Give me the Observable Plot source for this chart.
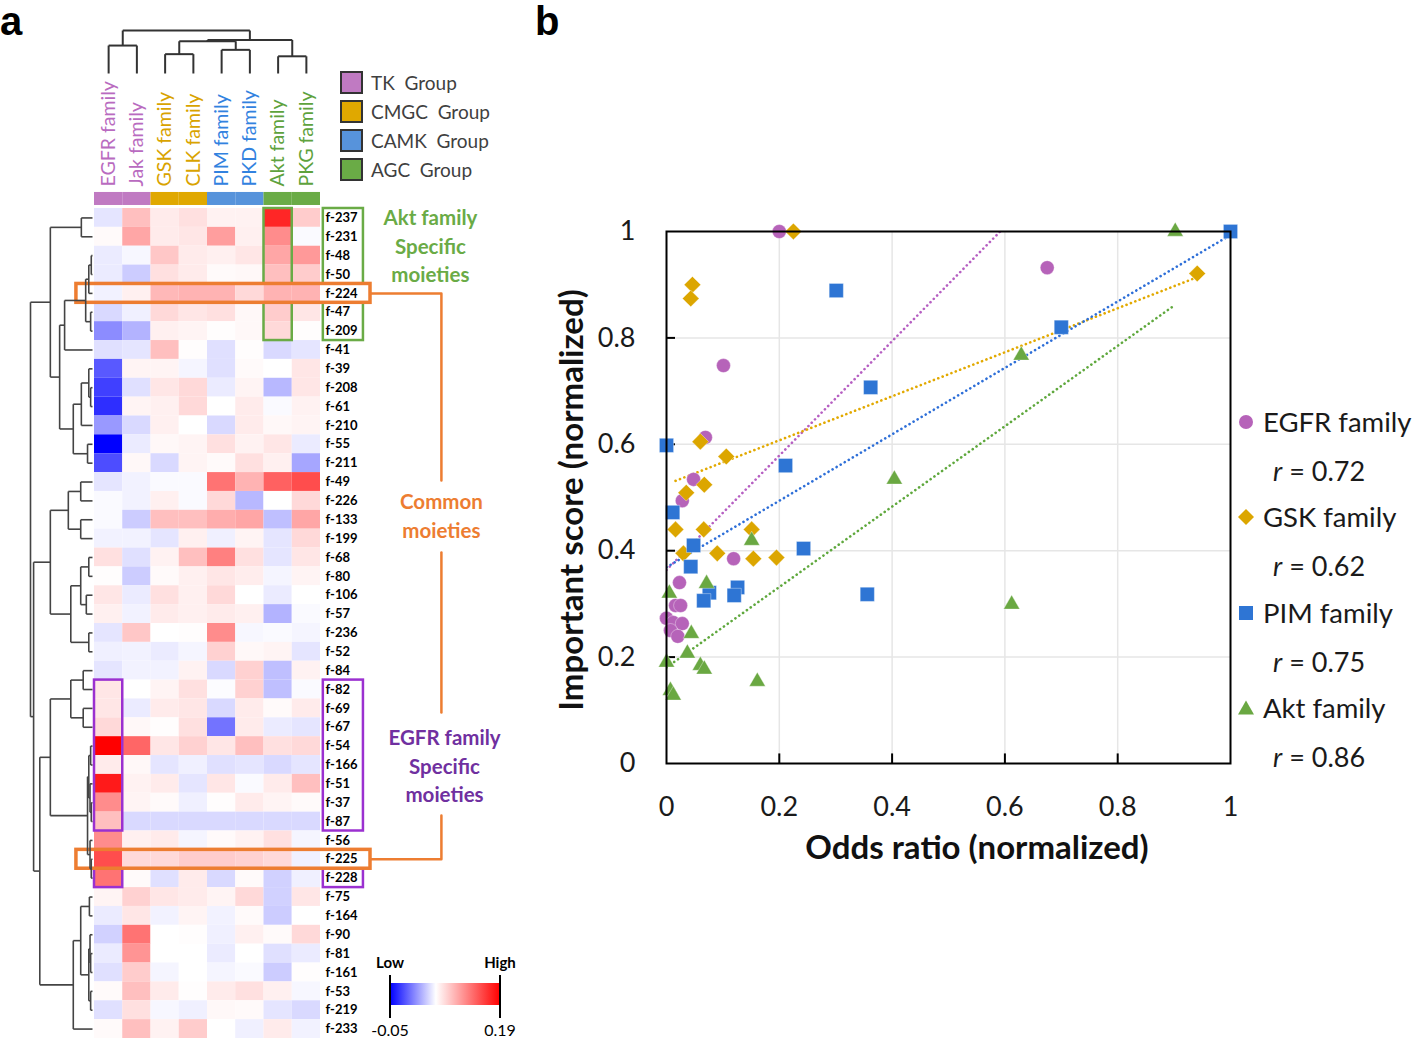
<!DOCTYPE html>
<html><head><meta charset="utf-8">
<script src="https://cdn.jsdelivr.net/npm/d3@7"></script>
<script src="https://cdn.jsdelivr.net/npm/@observablehq/plot@0.6"></script>
<style>
body{margin:0;background:#fff;font-family:Lato,"Open Sans",sans-serif;}
#root{position:relative;width:1416px;height:1040px;overflow:hidden;background:#fff;}
.abs{position:absolute;}
</style></head><body><div id="root"></div>
<script>
// ---------- Panel a data ----------
const cols = ["EGFR family","Jak family","GSK family","CLK family","PIM family","PKD family","Akt family","PKG family"];
const colGroup = [0,0,1,1,2,2,3,3];
const groupNames = ["TK  Group","CMGC  Group","CAMK  Group","AGC  Group"];
const groupColors = ["#c07ac2","#e0a800","#5793db","#6aab46"];
const labelColors = ["#b96bc0","#d9a300","#3282df","#5ea23d"];
const rows = ["f-237","f-231","f-48","f-50","f-224","f-47","f-209","f-41","f-39","f-208","f-61","f-210","f-55","f-211",
  "f-49","f-226","f-133","f-199","f-68","f-80","f-106","f-57","f-236","f-52","f-84","f-82","f-69","f-67","f-54","f-166",
  "f-51","f-37","f-87","f-56","f-225","f-228","f-75","f-164","f-90","f-81","f-161","f-53","f-219","f-233"];
const values = [
  [0.040,0.085,0.061,0.067,0.057,0.057,0.169,0.078],
  [0.053,0.099,0.061,0.064,0.103,0.058,0.113,0.048],
  [0.042,0.047,0.081,0.061,0.058,0.064,0.099,0.106],
  [0.042,0.030,0.067,0.061,0.053,0.054,0.085,0.078],
  [0.045,0.058,0.089,0.092,0.092,0.071,0.092,0.092],
  [0.035,0.044,0.071,0.064,0.067,0.054,0.078,0.064],
  [0.005,0.020,0.058,0.056,0.051,0.054,0.071,0.051],
  [0.038,0.040,0.085,0.051,0.038,0.051,0.035,0.040],
  [-0.015,0.056,0.056,0.046,0.038,0.053,0.050,0.064],
  [-0.025,0.038,0.064,0.071,0.042,0.056,0.022,0.064],
  [-0.032,0.056,0.058,0.071,0.050,0.061,0.048,0.057],
  [0.010,0.035,0.058,0.050,0.035,0.061,0.054,0.056],
  [-0.050,0.042,0.054,0.056,0.067,0.057,0.064,0.042],
  [-0.020,0.054,0.035,0.056,0.053,0.067,0.058,0.015],
  [0.040,0.045,0.048,0.048,0.127,0.092,0.137,0.148],
  [0.048,0.045,0.058,0.048,0.071,0.022,0.050,0.071],
  [0.048,0.030,0.085,0.085,0.095,0.099,0.025,0.099],
  [0.045,0.045,0.040,0.058,0.044,0.056,0.040,0.071],
  [0.067,0.038,0.057,0.085,0.120,0.067,0.040,0.064],
  [0.051,0.030,0.053,0.058,0.064,0.060,0.046,0.056],
  [0.064,0.042,0.067,0.058,0.071,0.050,0.042,0.050],
  [0.058,0.045,0.061,0.058,0.061,0.058,0.020,0.048],
  [0.040,0.081,0.050,0.051,0.113,0.047,0.048,0.046],
  [0.044,0.045,0.042,0.046,0.075,0.054,0.056,0.040],
  [0.040,0.045,0.045,0.057,0.035,0.075,0.025,0.057],
  [0.064,0.050,0.056,0.067,0.049,0.075,0.025,0.048],
  [0.064,0.042,0.061,0.064,0.035,0.061,0.053,0.061],
  [0.071,0.054,0.051,0.067,-0.005,0.061,0.042,0.040],
  [0.190,0.134,0.064,0.075,0.064,0.085,0.067,0.071],
  [0.061,0.054,0.040,0.044,0.038,0.040,0.035,0.040],
  [0.176,0.057,0.061,0.040,0.064,0.048,0.061,0.085],
  [0.113,0.056,0.053,0.044,0.051,0.061,0.056,0.053],
  [0.085,0.035,0.035,0.035,0.035,0.035,0.035,0.035],
  [0.113,0.058,0.061,0.046,0.053,0.057,0.067,0.046],
  [0.148,0.071,0.071,0.078,0.078,0.075,0.071,0.044],
  [0.127,0.053,0.038,0.061,0.035,0.053,0.032,0.044],
  [0.056,0.075,0.064,0.061,0.056,0.071,0.032,0.064],
  [0.042,0.064,0.045,0.056,0.045,0.053,0.030,0.050],
  [0.032,0.127,0.050,0.051,0.044,0.058,0.053,0.071],
  [0.042,0.109,0.050,0.050,0.042,0.050,0.038,0.042],
  [0.038,0.078,0.046,0.050,0.046,0.048,0.030,0.051],
  [0.053,0.085,0.061,0.051,0.061,0.067,0.058,0.047],
  [0.038,0.067,0.047,0.044,0.054,0.053,0.040,0.035],
  [0.053,0.085,0.057,0.078,0.050,0.044,0.061,0.045]
];
// dendrograms: [mergeHeight, left, right]
const rowTree = [1.0,
  [0.68, [0.18,"f-237","f-231"],
    [0.53, [0.45, [0.11, [0.06, [0.02,"f-48","f-50"], "f-224"], [0.03,"f-47","f-209"]], "f-41"],
           [0.31, [0.18, [0.06,"f-39",[0.03,"f-208","f-61"]], "f-210"], [0.08,"f-55","f-211"]]]],
  [0.95,
    [0.68, [0.39, [0.19,"f-49","f-226"], [0.19,"f-133","f-199"]],
           [0.35, [0.19, [0.06,"f-68","f-80"], [0.10,"f-106","f-57"]], [0.06,"f-236","f-52"]]],
    [0.85,
      [0.68, [0.35, [0.15,"f-84","f-82"], [0.15,"f-69","f-67"]],
             [0.08, [0.06, [0.03,"f-54","f-166"], [0.04,"f-51",[0.02,"f-37","f-87"]]], [0.04,"f-56",[0.02,"f-225","f-228"]]]],
      [0.31, [0.19, [0.05,"f-75","f-164"], [0.06, [0.04,"f-90",[0.03,"f-81","f-161"]], [0.03,"f-53","f-219"]]], "f-233"]]]
];
const colTree = [1.0, [0.65,"EGFR family","Jak family"],
  [0.78, [0.75, [0.45,"GSK family","CLK family"], [0.55,"PIM family","PKD family"]], [0.40,"Akt family","PKG family"]]];
// annotations (row spans)
const aktSpans = [["f-237","f-50"],["f-47","f-209"]];
const egfrSpans = [["f-82","f-87"],["f-228","f-228"]];
const commonSpans = [["f-224","f-224"],["f-225","f-225"]];

// ---------- Panel b data ----------
const egfrPts = [[0.200,1.000],[0.675,0.932],[0.101,0.748],[0.069,0.613],[0.048,0.534],[0.028,0.494],[0.119,0.385],
  [0.023,0.340],[0.016,0.297],[0.025,0.297],[0.000,0.273],[0.012,0.265],[0.028,0.263],[0.007,0.250],[0.020,0.239]];
const gskPts = [[0.225,1.000],[0.941,0.921],[0.046,0.900],[0.043,0.874],[0.060,0.605],[0.106,0.577],[0.067,0.524],
  [0.035,0.509],[0.016,0.440],[0.066,0.440],[0.151,0.440],[0.030,0.395],[0.090,0.395],[0.154,0.385],[0.195,0.387]];
const pimPts = [[1.000,1.000],[0.301,0.889],[0.700,0.820],[0.362,0.707],[0.000,0.598],[0.211,0.560],[0.011,0.472],
  [0.048,0.410],[0.243,0.404],[0.043,0.370],[0.126,0.331],[0.120,0.316],[0.076,0.321],[0.066,0.306],[0.356,0.318]];
const aktPts = [[0.902,1.000],[0.629,0.767],[0.404,0.534],[0.151,0.419],[0.071,0.338],[0.005,0.320],[0.044,0.244],
  [0.037,0.207],[0.000,0.190],[0.060,0.184],[0.067,0.177],[0.161,0.154],[0.007,0.137],[0.012,0.128],[0.612,0.299]];
const families = ["EGFR family","GSK family","PIM family","Akt family"];
const famColors = ["#b663b9","#dca600","#2e75d4","#6aa842"];
const lineColors = ["#b65fc2","#e2a900","#2e6fd8","#5fa83d"];
const rValues = ["0.72","0.62","0.75","0.86"];
const axisTicks = [0,0.2,0.4,0.6,0.8,1];

// ---------- helpers ----------
const root = document.getElementById("root");
function place(el, left, top) {
  const w = document.createElement("div");
  w.className = "abs"; w.style.left = left + "px"; w.style.top = top + "px";
  w.appendChild(el); root.appendChild(w); return w;
}
function textAt(html, x, y, css, align, rotate) {
  const d = document.createElement("div");
  d.className = "abs"; d.innerHTML = html;
  d.style.cssText += "white-space:pre;line-height:1;" + (css || "");
  d.style.left = x + "px"; d.style.top = y + "px";
  const base = align === "left" ? "translate(0,-50%)" : align === "topleft" ? "" : "translate(-50%,-50%)";
  d.style.transform = base + (rotate ? ` rotate(${rotate}deg)` : "");
  root.appendChild(d); return d;
}
function dendroLinks(tree, leafPos) {
  const links = [];
  (function walk(node) {
    if (typeof node === "string") return {p: leafPos(node), h: 0};
    const [h, a, b] = node;
    const A = walk(a), B = walk(b);
    links.push({p1: A.p, h1: A.h, p2: A.p, h2: h});
    links.push({p1: B.p, h1: B.h, p2: B.p, h2: h});
    links.push({p1: A.p, h1: h, p2: B.p, h2: h});
    return {p: (A.p + B.p) / 2, h};
  })(tree);
  return links;
}
const rowIndex = r => rows.indexOf(r);
const colIndex = c => cols.indexOf(c);
const transparent = {background: "transparent", overflow: "visible", fontFamily: "Lato"};

// ---------- heatmap ----------
const cells = [];
values.forEach((vals, i) => vals.forEach((v, j) => cells.push({row: i, col: j, v})));
const heatMarks = [
  Plot.rect(cells, {x1: "col", x2: d => d.col + 1, y1: "row", y2: d => d.row + 1, fill: "v"})
];
groupNames.forEach((g, k) => {
  const members = cols.filter((c, j) => colGroup[j] === k);
  heatMarks.push(Plot.rect(members, {x1: d => colIndex(d), x2: d => colIndex(d) + 1, y1: -0.85, y2: -0.16, fill: groupColors[k]}));
  heatMarks.push(Plot.text(members, {x: d => colIndex(d) + 0.5, y: -1.17, text: d => d, rotate: -90, textAnchor: "start",
    fill: labelColors[k], fontSize: 19.5}));
});
heatMarks.push(Plot.text(rows, {x: 8, y: (d, i) => i + 0.5, text: d => d, dx: 5, textAnchor: "start",
  fontWeight: "bold", fontSize: 13, fill: "#000"}));
const spanBox = (spans, x1, x2, color, sw) => Plot.rect(spans, {x1, x2, y1: d => rowIndex(d[0]), y2: d => rowIndex(d[1]) + 1,
  fill: "none", stroke: color, strokeWidth: sw});
const green = "#6aab46", purple = "#9b30d0", orange = "#ed7d31";
heatMarks.push(spanBox(aktSpans, 6, 7, green, 2.5));
heatMarks.push(spanBox(aktSpans, 8.1, 9.52, green, 2.5));
heatMarks.push(spanBox(egfrSpans, 0, 1, purple, 2.5));
heatMarks.push(spanBox(egfrSpans, 8.1, 9.52, purple, 2.5));
heatMarks.push(spanBox(commonSpans, -0.64, 9.77, orange, 3.5));
const conn = [
  {s: 0, x: 9.77, y: rowIndex("f-224") + 0.5}, {s: 0, x: 12.28, y: rowIndex("f-224") + 0.5}, {s: 0, x: 12.28, y: 14.42},
  {s: 1, x: 12.28, y: 18.24}, {s: 1, x: 12.28, y: 26.72},
  {s: 2, x: 12.28, y: 32.18}, {s: 2, x: 12.28, y: rowIndex("f-225") + 0.5}, {s: 2, x: 9.77, y: rowIndex("f-225") + 0.5}
];
heatMarks.push(Plot.line(conn, {x: "x", y: "y", z: "s", stroke: orange, strokeWidth: 2.5}));
heatMarks.push(Plot.text(["Akt family\nSpecific\nmoieties"], {x: 11.89, y: 1.91, text: d => d, fill: green, fontWeight: "bold", fontSize: 20.5, lineHeight: 1.4}));
heatMarks.push(Plot.text(["Common\nmoieties"], {x: 12.28, y: 16.22, text: d => d, fill: orange, fontWeight: "bold", fontSize: 20.5, lineHeight: 1.4}));
heatMarks.push(Plot.text(["EGFR family\nSpecific\nmoieties"], {x: 12.39, y: 29.47, text: d => d, fill: "#7030a0", fontWeight: "bold", fontSize: 20.5, lineHeight: 1.4}));

const heat = Plot.plot({
  width: 540, height: 1040, marginLeft: 94, marginRight: 220, marginTop: 208, marginBottom: 2,
  x: {domain: [0, 8], axis: null},
  y: {domain: [0, 44], reverse: true, axis: null},
  color: {type: "linear", domain: [-0.05, 0.05, 0.19], range: ["#0000ff", "#ffffff", "#ff0000"], interpolate: "rgb"},
  style: transparent,
  marks: heatMarks
});
place(heat, 0, 0);

// row dendrogram
const rowLinks = dendroLinks(rowTree, r => rowIndex(r) + 0.5);
place(Plot.plot({
  width: 94, height: 1040, marginLeft: 30, marginRight: 2, marginTop: 208, marginBottom: 2,
  x: {domain: [1, 0], axis: null}, y: {domain: [0, 44], reverse: true, axis: null},
  style: transparent,
  marks: [Plot.link(rowLinks, {x1: "h1", y1: "p1", x2: "h2", y2: "p2", stroke: "#444", strokeWidth: 1.6})]
}), 0, 0);

// column dendrogram
const colLinks = dendroLinks(colTree, c => colIndex(c) + 0.5);
place(Plot.plot({
  width: 540, height: 76, marginLeft: 94, marginRight: 220, marginTop: 30, marginBottom: 3,
  x: {domain: [0, 8], axis: null}, y: {domain: [0, 1], axis: null},
  style: transparent,
  marks: [Plot.link(colLinks, {x1: "p1", y1: "h1", x2: "p2", y2: "h2", stroke: "#333", strokeWidth: 2})]
}), 0, 0);

// group legend
groupNames.forEach((g, k) => {
  const y = 82 + k * 29;
  const box = document.createElement("div");
  box.className = "abs";
  box.style.cssText += `left:340px;top:${y - 11}px;width:19px;height:19px;border:2px solid #333;background:${groupColors[k]};`;
  root.appendChild(box);
  textAt(g, 371, y, "font-size:19px;color:#404040;", "left");
});

// colour bar
const bar = document.createElement("div");
bar.className = "abs";
bar.style.cssText += "left:390px;top:983px;width:110px;height:22px;background:linear-gradient(to right,#0000ff 0%,#ffffff 41.7%,#ff0000 100%);";
root.appendChild(bar);
[389, 499].forEach(x => {
  const t = document.createElement("div"); t.className = "abs";
  t.style.cssText += `left:${x}px;top:975px;width:2px;height:43px;background:#000;`;
  root.appendChild(t);
});
textAt("Low", 390, 962, "font-size:15px;font-weight:bold;");
textAt("High", 500, 962, "font-size:15px;font-weight:bold;");
textAt("-0.05", 390, 1030, "font-size:16px;");
textAt("0.19", 500, 1030, "font-size:16px;");

// panel letters
textAt("a", 0, 1, "font-size:40px;font-weight:bold;font-family:'Liberation Sans',Arial,sans-serif;", "topleft");
textAt("b", 535, 1, "font-size:40px;font-weight:bold;font-family:'Liberation Sans',Arial,sans-serif;", "topleft");

// ---------- scatter ----------
const fmt = d3.format("~g");
const ptsAll = [egfrPts, gskPts, pimPts, aktPts];
const symbols = ["circle", "diamond2", "square", "triangle"];
const radii = [7, 7.5, 8, 6];
const scatterMarks = [
  Plot.gridX([0.2, 0.4, 0.6, 0.8], {stroke: "#e6e6e6", strokeOpacity: 1, strokeWidth: 1.5}),
  Plot.gridY([0.2, 0.4, 0.6, 0.8], {stroke: "#e6e6e6", strokeOpacity: 1, strokeWidth: 1.5}),
  Plot.ruleY([0.2, 0.4, 0.6, 0.8], {x1: 0, x2: 0.016, stroke: "#000", strokeWidth: 2}),
  Plot.ruleX([0.2, 0.4, 0.6, 0.8], {y1: 0, y2: 0.018, stroke: "#000", strokeWidth: 2})
];
ptsAll.forEach((pts, k) => scatterMarks.push(Plot.linearRegressionY(pts, {x: d => d[0], y: d => d[1], ci: 0,
  stroke: lineColors[k], strokeWidth: 2.6, strokeDasharray: "0.1 4.6", strokeLinecap: "round", clip: true})));
ptsAll.forEach((pts, k) => scatterMarks.push(Plot.dot(pts, {x: d => d[0], y: d => d[1], symbol: symbols[k], r: radii[k],
  fill: famColors[k], stroke: "#fff", strokeWidth: 0.6, strokeOpacity: 0.6})));
scatterMarks.push(Plot.frame({stroke: "#000", strokeWidth: 2}));
scatterMarks.push(Plot.axisX({ticks: axisTicks, tickSize: 0, tickPadding: 33, tickFormat: fmt, label: null}));
scatterMarks.push(Plot.axisY({ticks: axisTicks, tickSize: 0, tickPadding: 31, tickFormat: fmt, label: null}));
place(Plot.plot({
  width: 876, height: 1040, marginLeft: 126, marginRight: 186, marginTop: 231, marginBottom: 277,
  x: {domain: [0, 1], label: null}, y: {domain: [0, 1], label: null},
  style: {...transparent, fontSize: "27px", color: "#1a1a1a"},
  marks: scatterMarks
}), 540, 0);

textAt("Important score (normalized)", 570, 500, "font-size:33px;font-weight:bold;color:#111;", "center", -90);
textAt("Odds ratio (normalized)", 977, 846, "font-size:33px;font-weight:bold;color:#111;");

// scatter legend
const markerSvg = [
  c => `<circle cx="9" cy="9" r="7" fill="${c}"/>`,
  c => `<path d="M9 1L17 9L9 17L1 9Z" fill="${c}"/>`,
  c => `<rect x="2" y="2" width="14" height="14" fill="${c}"/>`,
  c => `<path d="M9 1.5L17 15.5L1 15.5Z" fill="${c}"/>`
];
families.forEach((f, k) => {
  const y = 422 + k * 95.3;
  const m = document.createElement("div"); m.className = "abs";
  m.style.cssText += `left:1237px;top:${y - 9}px;width:18px;height:18px;`;
  m.innerHTML = `<svg width="18" height="18">${markerSvg[k](famColors[k])}</svg>`;
  root.appendChild(m);
  textAt(f, 1263, y, "font-size:27.5px;color:#1a1a1a;", "left");
  textAt(`<i>r</i> = ${rValues[k]}`, 1273, y + 48, "font-size:27px;color:#1a1a1a;", "left");
});
</script></body></html>
